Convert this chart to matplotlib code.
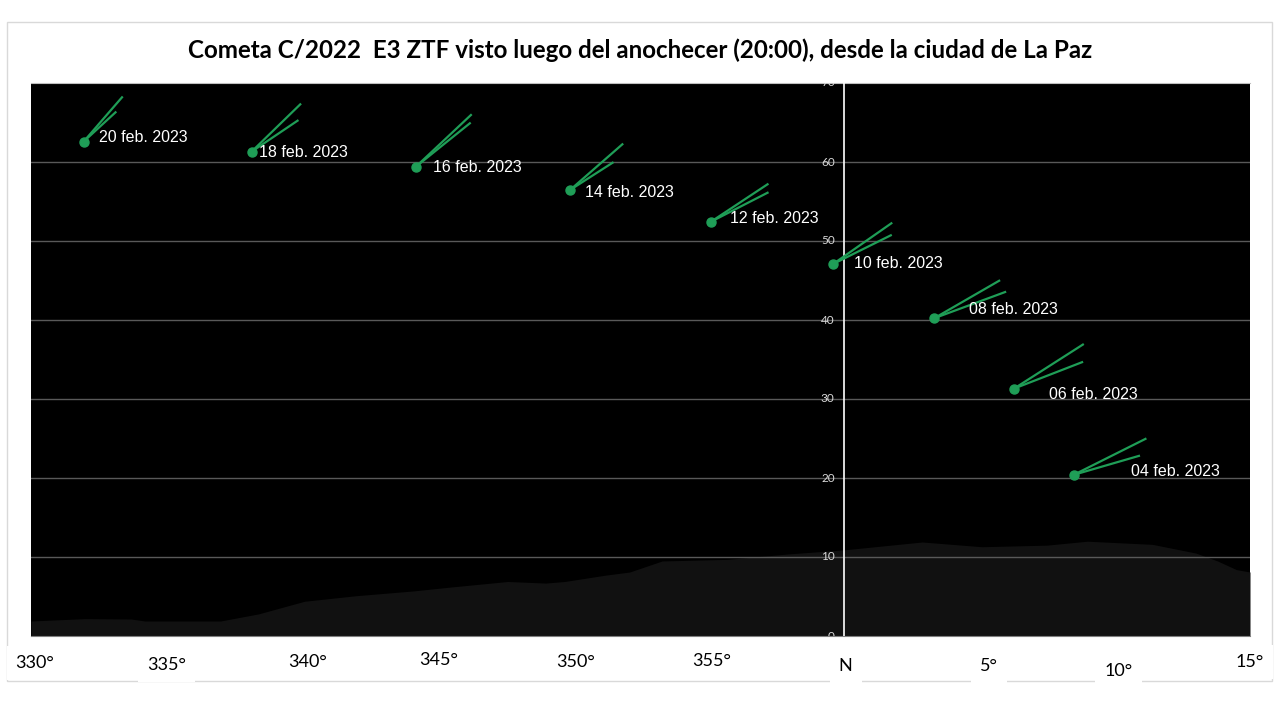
import matplotlib.pyplot as plt
from matplotlib.patches import Rectangle
from matplotlib import transforms

# posiciones del cometa (azimut en grados respecto al norte, altura en grados)
fechas = ['20 feb. 2023', '18 feb. 2023', '16 feb. 2023', '14 feb. 2023', '12 feb. 2023',
          '10 feb. 2023', '08 feb. 2023', '06 feb. 2023', '04 feb. 2023']
azimut = [-28.06, -21.86, -15.79, -10.10, -4.90, -0.39, 3.34, 6.29, 8.49]
altura = [62.57, 61.30, 59.41, 56.46, 52.44, 47.09, 40.22, 31.32, 20.40]

# extremos de las dos colas
cola1_az = [-26.64, -20.06, -13.76, -8.17, -2.81, 1.76, 5.74, 8.83, 11.14]
cola1_alt = [68.19, 67.30, 65.95, 62.24, 57.18, 52.24, 44.97, 36.89, 24.95]
cola2_az = [-26.88, -20.16, -13.80, -8.53, -2.81, 1.74, 5.96, 8.80, 10.90]
cola2_alt = [66.29, 65.23, 64.90, 59.91, 56.11, 50.72, 43.54, 34.66, 22.80]

# silueta del horizonte
terreno_az = [-30, -28, -26.3, -25.8, -23, -21.6, -19.9, -18, -15.9, -14.5, -12.4, -11,
              -10.3, -8.8, -7.9, -6.7, -4.3, -2.0, 0, 2.9, 5.1, 7.5, 9.0, 11.4, 13.0,
              13.8, 14.5, 15]
terreno_alt = [1.9, 2.2, 2.15, 1.9, 1.9, 2.8, 4.4, 5.1, 5.7, 6.2, 6.9, 6.7, 6.9, 7.7, 8.1,
               9.5, 9.7, 10.4, 10.9, 11.9, 11.3, 11.5, 12.0, 11.6, 10.5, 9.5, 8.4, 8.1]

x_ticks = [-30, -25, -20, -15, -10, -5, 0, 5, 10, 15]
x_labels = ['330°', '335°', '340°', '345°', '350°', '355°', 'N', '5°', '10°', '15°']
y_ticks = [0, 10, 20, 30, 40, 50, 60, 70]

titulo = 'Cometa C/2022  E3 ZTF visto luego del anochecer (20:00), desde la ciudad de La Paz'

# desplazamientos de etiquetas en pixeles
label_off = [(15, 4), (7, -1), (17, -1), (15, -3), (19, 3), (21, 0), (35, 9), (35, -6), (57, 3)]
xlab_off = [(4, -27), (0, -29), (6, -26), (1, -24), (3, -26), (3, -25), (2, -30), (10, -30),
            (4, -35), (0, -26)]

verde = '#1f9e57'

fig = plt.figure(figsize=(12.8, 7.2), dpi=100)
fig.add_artist(Rectangle((7 / 1280, 1 - 681 / 720), 1265 / 1280, 659 / 720,
                         transform=fig.transFigure, fill=False, ec='#d9d9d9', lw=1,
                         zorder=-1))

ax = fig.add_axes([31 / 1280, 1 - 636 / 720, 1219 / 1280, 553 / 720])
ax.set_facecolor('black')
ax.set_xlim(-30, 15)
ax.set_ylim(0, 70)
ax.set_xticks([])
ax.set_yticks([])
for s in ['left', 'right']:
    ax.spines[s].set_visible(False)
ax.spines['bottom'].set_color('#7f7f7f')
ax.spines['top'].set_color('#bfbfbf')

ax.fill_between(terreno_az, terreno_alt, 0, color='#111111', lw=0, zorder=1)
for y in y_ticks[1:-1]:
    ax.axhline(y, color='#595959', lw=1, zorder=2)
ax.axvline(0, color='white', lw=1.2, zorder=3)

for y in y_ticks:
    tr = transforms.offset_copy(ax.transData, fig, x=-9, y=0, units='dots')
    ax.text(0, y, str(y), transform=tr, ha='right', va='center', color='#d9d9d9',
            fontsize=8.5, family='Lato', clip_on=True, zorder=4)

for i in range(len(fechas)):
    ax.plot([azimut[i], cola1_az[i]], [altura[i], cola1_alt[i]], color=verde, lw=1.6, zorder=5)
    ax.plot([azimut[i], cola2_az[i]], [altura[i], cola2_alt[i]], color=verde, lw=1.6, zorder=5)
    ax.plot(azimut[i], altura[i], 'o', color=verde, ms=6.5, zorder=6)
    ax.annotate(fechas[i], (azimut[i], altura[i]), xytext=label_off[i],
                textcoords='offset pixels', ha='left', va='center', color='white',
                fontsize=11.5, family='Liberation Sans', zorder=7)

for x, lab, (dx, dy) in zip(x_ticks, x_labels, xlab_off):
    tr = transforms.offset_copy(ax.get_xaxis_transform(), fig, x=dx, y=dy, units='dots')
    ax.text(x, 0, lab, transform=tr, ha='center', va='center', fontsize=13, family='Lato',
            color='black', clip_on=False,
            bbox=dict(boxstyle='square,pad=0.5', fc='white', ec='none'))

fig.text(0.5, 1 - 50 / 720, titulo, ha='center', va='center', fontsize=17.4,
         fontweight='bold', family='Lato')

fig.savefig('out.png', dpi=100)
